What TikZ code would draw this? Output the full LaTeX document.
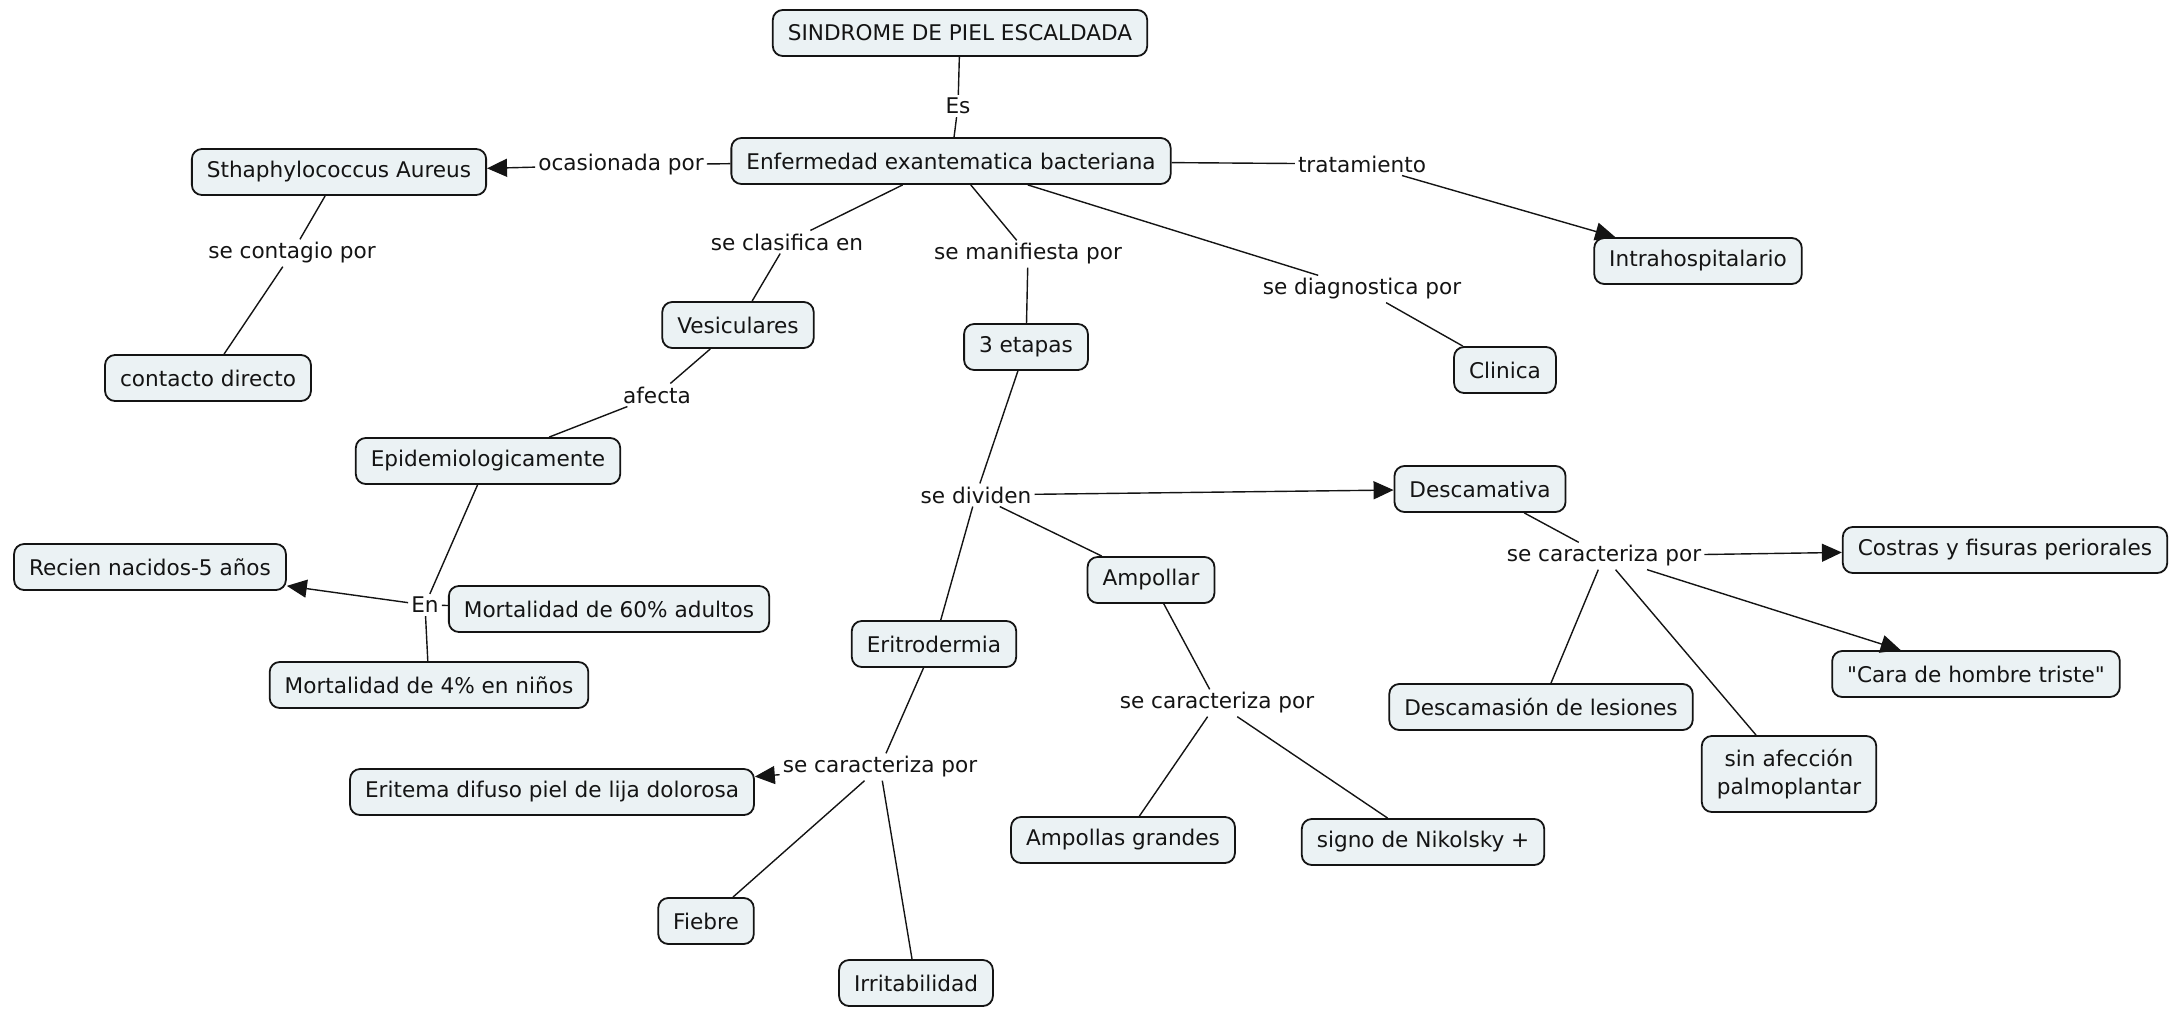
\documentclass[tikz,border=0pt]{standalone}
\usepackage{fontspec}
\setmainfont{DejaVu Sans}[Ligatures=TeXOff]
\usetikzlibrary{arrows.meta}
\definecolor{conceptfill}{HTML}{EBF2F4}
\definecolor{ink}{HTML}{141414}
\begin{document}
\begin{tikzpicture}[x=1pt,y=-1pt,
  every node/.style={font=\fontsize{21.6}{27.5}\selectfont, text=ink},
  concept/.style={draw=ink, line width=1.8pt, fill=conceptfill, rounded corners=10pt,
    minimum height=46pt, inner xsep=15pt, inner ysep=4pt, align=center},
  phrase/.style={inner sep=3pt},
  link/.style={draw=ink, line width=1.4pt},
  arr/.style={link, -{Triangle[length=20pt,width=18pt]}}]
\useasboundingbox (0,0) rectangle (2179,1016);

% concepts
\node[concept] (sind) at (960,33) {SINDROME DE PIEL ESCALDADA};
\node[concept] (enf) at (951,161) {Enfermedad exantematica bacteriana};
\node[concept] (sta) at (339,172) {Sthaphylococcus Aureus};
\node[concept] (intra) at (1698,261) {Intrahospitalario};
\node[concept] (cont) at (208,378) {contacto directo};
\node[concept] (ves) at (738,325) {Vesiculares};
\node[concept] (etap) at (1026,347) {3 etapas};
\node[concept] (clin) at (1505,370) {Clinica};
\node[concept] (epi) at (488,461) {Epidemiologicamente};
\node[concept] (desc) at (1480,489) {Descamativa};
\node[concept] (rec) at (150,567) {Recien nacidos-5 años};
\node[concept] (m60) at (609,609) {Mortalidad de 60\% adultos};
\node[concept] (m4) at (429,685) {Mortalidad de 4\% en niños};
\node[concept] (amp) at (1151,580) {Ampollar};
\node[concept] (eri) at (934,644) {Eritrodermia};
\node[concept] (cos) at (2005,550) {Costras y fisuras periorales};
\node[concept] (cara) at (1976,674) {"Cara de hombre triste"};
\node[concept] (dles) at (1541,707) {Descamasión de lesiones};
\node[concept, minimum height=76pt] (sin) at (1789,774) {sin afección\\palmoplantar};
\node[concept] (erit) at (552,792) {Eritema difuso piel de lija dolorosa};
\node[concept] (ampg) at (1123,840) {Ampollas grandes};
\node[concept] (nik) at (1423,842) {signo de Nikolsky +};
\node[concept] (fie) at (706,921) {Fiebre};
\node[concept] (irr) at (916,983) {Irritabilidad};

% linking phrases
\node[phrase] (es) at (958,106) {Es};
\node[phrase] (ocas) at (621,165) {ocasionada por};
\node[phrase] (trat) at (1362,164) {tratamiento};
\node[phrase] (cpor) at (292,253) {se contagio por};
\node[phrase] (clas) at (787,242) {se clasifica en};
\node[phrase] (mani) at (1028,254) {se manifiesta por};
\node[phrase] (diag) at (1362,289) {se diagnostica por};
\node[phrase] (afec) at (657,395) {afecta};
\node[phrase] (divi) at (976,495) {se dividen};
\node[phrase] (en) at (425,605) {En};
\node[phrase] (cdes) at (1604,556) {se caracteriza por};
\node[phrase] (camp) at (1217,703) {se caracteriza por};
\node[phrase] (ceri) at (880,767) {se caracteriza por};

% connectors
\draw[link] (sind) -- (es);
\draw[link] (es) -- (enf);
\draw[link] (enf) -- (ocas);
\draw[arr] (ocas) -- (sta);
\draw[link] (enf) -- (trat);
\draw[arr] (trat) -- (intra);
\draw[link] (sta) -- (cpor);
\draw[link] (cpor) -- (cont);
\draw[link] (enf) -- (clas);
\draw[link] (clas) -- (ves);
\draw[link] (enf) -- (mani);
\draw[link] (mani) -- (etap);
\draw[link] (enf) -- (diag);
\draw[link] (diag) -- (clin);
\draw[link] (ves) -- (afec);
\draw[link] (afec) -- (epi);
\draw[link] (epi) -- (en);
\draw[arr] (en) -- (rec);
\draw[link] (en) -- (m60);
\draw[link] (en) -- (m4);
\draw[link] (etap) -- (divi);
\draw[arr] (divi) -- (desc);
\draw[link] (divi) -- (amp);
\draw[link] (divi) -- (eri);
\draw[link] (desc) -- (cdes);
\draw[arr] (cdes) -- (cos);
\draw[arr] (cdes) -- (cara);
\draw[link] (cdes) -- (dles);
\draw[link] (cdes) -- (sin);
\draw[link] (amp) -- (camp);
\draw[link] (camp) -- (ampg);
\draw[link] (camp) -- (nik);
\draw[link] (eri) -- (ceri);
\draw[arr] (ceri) -- (erit);
\draw[link] (ceri) -- (fie);
\draw[link] (ceri) -- (irr);
\end{tikzpicture}
\end{document}
